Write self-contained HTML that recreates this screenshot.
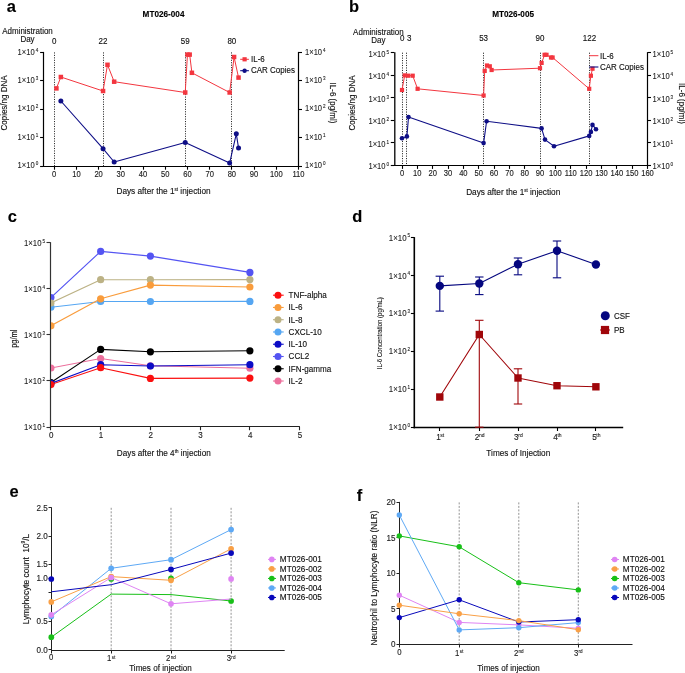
<!DOCTYPE html>
<html><head><meta charset="utf-8"><style>html,body{margin:0;padding:0;background:#fff;width:685px;height:673px;overflow:hidden}svg{display:block;will-change:transform}</style></head>
<body><svg width="685" height="673" viewBox="0 0 685 673" font-family='&quot;Liberation Sans&quot;, sans-serif'>
<rect width="685" height="673" fill="#fff"/>
<text x="0" y="0" font-size="16.5" text-anchor="start" fill="#000" font-weight="bold" stroke="#000" stroke-width="0.12" transform="translate(6.80 12.20) scale(1 1.05)">a</text>
<text x="0" y="0" font-size="8.2" text-anchor="middle" fill="#000" font-weight="bold" stroke="#000" stroke-width="0.12" transform="translate(163.50 17.20) scale(1 1.1)">MT026-004</text>
<text x="0" y="0" font-size="8" text-anchor="middle" fill="#111" stroke="#111" stroke-width="0.12" transform="translate(27.50 34.00) scale(1 1.1)">Administration</text>
<text x="0" y="0" font-size="8" text-anchor="middle" fill="#111" stroke="#111" stroke-width="0.12" transform="translate(27.50 41.80) scale(1 1.1)">Day</text>
<text x="0" y="0" font-size="8" text-anchor="middle" fill="#111" stroke="#111" stroke-width="0.12" transform="translate(54.20 44.00) scale(1 1.1)">0</text>
<line x1="54.50" y1="52.40" x2="54.50" y2="166.10" stroke="#111" stroke-width="0.9" stroke-dasharray="1.1 1.35"/>
<text x="0" y="0" font-size="8" text-anchor="middle" fill="#111" stroke="#111" stroke-width="0.12" transform="translate(103.06 44.00) scale(1 1.1)">22</text>
<line x1="103.50" y1="52.40" x2="103.50" y2="166.10" stroke="#111" stroke-width="0.9" stroke-dasharray="1.1 1.35"/>
<text x="0" y="0" font-size="8" text-anchor="middle" fill="#111" stroke="#111" stroke-width="0.12" transform="translate(185.23 44.00) scale(1 1.1)">59</text>
<line x1="185.50" y1="52.40" x2="185.50" y2="166.10" stroke="#111" stroke-width="0.9" stroke-dasharray="1.1 1.35"/>
<text x="0" y="0" font-size="8" text-anchor="middle" fill="#111" stroke="#111" stroke-width="0.12" transform="translate(231.87 44.00) scale(1 1.1)">80</text>
<line x1="231.50" y1="52.40" x2="231.50" y2="166.10" stroke="#111" stroke-width="0.9" stroke-dasharray="1.1 1.35"/>
<line x1="43.50" y1="51.90" x2="43.50" y2="166.70" stroke="#000" stroke-width="1.2"/>
<line x1="43.00" y1="166.50" x2="299.10" y2="166.50" stroke="#000" stroke-width="1.2"/>
<line x1="298.50" y1="51.90" x2="298.50" y2="166.70" stroke="#000" stroke-width="1.2"/>
<line x1="40.10" y1="166.50" x2="43.60" y2="166.50" stroke="#000" stroke-width="1.1"/>
<line x1="298.50" y1="166.50" x2="302.00" y2="166.50" stroke="#000" stroke-width="1.1"/>
<text x="0" y="0" font-size="7.6" text-anchor="start" fill="#222" stroke="#222" stroke-width="0.08" transform="translate(17.62 168.34) scale(1 1.1)">1×10</text>
<text x="0" y="0" font-size="4.6" text-anchor="start" fill="#222" stroke="#222" stroke-width="0.1" transform="translate(35.64 165.22) scale(1 1.1)">0</text>
<text x="0" y="0" font-size="7.6" text-anchor="start" fill="#222" stroke="#222" stroke-width="0.08" transform="translate(305.00 168.34) scale(1 1.1)">1×10</text>
<text x="0" y="0" font-size="4.6" text-anchor="start" fill="#222" stroke="#222" stroke-width="0.1" transform="translate(323.02 165.22) scale(1 1.1)">0</text>
<line x1="40.10" y1="137.50" x2="43.60" y2="137.50" stroke="#000" stroke-width="1.1"/>
<line x1="298.50" y1="137.50" x2="302.00" y2="137.50" stroke="#000" stroke-width="1.1"/>
<text x="0" y="0" font-size="7.6" text-anchor="start" fill="#222" stroke="#222" stroke-width="0.08" transform="translate(17.62 139.91) scale(1 1.1)">1×10</text>
<text x="0" y="0" font-size="4.6" text-anchor="start" fill="#222" stroke="#222" stroke-width="0.1" transform="translate(35.64 136.80) scale(1 1.1)">1</text>
<text x="0" y="0" font-size="7.6" text-anchor="start" fill="#222" stroke="#222" stroke-width="0.08" transform="translate(305.00 139.91) scale(1 1.1)">1×10</text>
<text x="0" y="0" font-size="4.6" text-anchor="start" fill="#222" stroke="#222" stroke-width="0.1" transform="translate(323.02 136.80) scale(1 1.1)">1</text>
<line x1="40.10" y1="109.50" x2="43.60" y2="109.50" stroke="#000" stroke-width="1.1"/>
<line x1="298.50" y1="109.50" x2="302.00" y2="109.50" stroke="#000" stroke-width="1.1"/>
<text x="0" y="0" font-size="7.6" text-anchor="start" fill="#222" stroke="#222" stroke-width="0.08" transform="translate(17.62 111.49) scale(1 1.1)">1×10</text>
<text x="0" y="0" font-size="4.6" text-anchor="start" fill="#222" stroke="#222" stroke-width="0.1" transform="translate(35.64 108.37) scale(1 1.1)">2</text>
<text x="0" y="0" font-size="7.6" text-anchor="start" fill="#222" stroke="#222" stroke-width="0.08" transform="translate(305.00 111.49) scale(1 1.1)">1×10</text>
<text x="0" y="0" font-size="4.6" text-anchor="start" fill="#222" stroke="#222" stroke-width="0.1" transform="translate(323.02 108.37) scale(1 1.1)">2</text>
<line x1="40.10" y1="80.50" x2="43.60" y2="80.50" stroke="#000" stroke-width="1.1"/>
<line x1="298.50" y1="80.50" x2="302.00" y2="80.50" stroke="#000" stroke-width="1.1"/>
<text x="0" y="0" font-size="7.6" text-anchor="start" fill="#222" stroke="#222" stroke-width="0.08" transform="translate(17.62 83.06) scale(1 1.1)">1×10</text>
<text x="0" y="0" font-size="4.6" text-anchor="start" fill="#222" stroke="#222" stroke-width="0.1" transform="translate(35.64 79.95) scale(1 1.1)">3</text>
<text x="0" y="0" font-size="7.6" text-anchor="start" fill="#222" stroke="#222" stroke-width="0.08" transform="translate(305.00 83.06) scale(1 1.1)">1×10</text>
<text x="0" y="0" font-size="4.6" text-anchor="start" fill="#222" stroke="#222" stroke-width="0.1" transform="translate(323.02 79.95) scale(1 1.1)">3</text>
<line x1="40.10" y1="52.50" x2="43.60" y2="52.50" stroke="#000" stroke-width="1.1"/>
<line x1="298.50" y1="52.50" x2="302.00" y2="52.50" stroke="#000" stroke-width="1.1"/>
<text x="0" y="0" font-size="7.6" text-anchor="start" fill="#222" stroke="#222" stroke-width="0.08" transform="translate(17.62 54.64) scale(1 1.1)">1×10</text>
<text x="0" y="0" font-size="4.6" text-anchor="start" fill="#222" stroke="#222" stroke-width="0.1" transform="translate(35.64 51.52) scale(1 1.1)">4</text>
<text x="0" y="0" font-size="7.6" text-anchor="start" fill="#222" stroke="#222" stroke-width="0.08" transform="translate(305.00 54.64) scale(1 1.1)">1×10</text>
<text x="0" y="0" font-size="4.6" text-anchor="start" fill="#222" stroke="#222" stroke-width="0.1" transform="translate(323.02 51.52) scale(1 1.1)">4</text>
<line x1="54.50" y1="166.10" x2="54.50" y2="169.70" stroke="#000" stroke-width="1.1"/>
<text x="0" y="0" font-size="7.6" text-anchor="middle" fill="#222" stroke="#222" stroke-width="0.12" transform="translate(54.20 176.80) scale(1 1.1)">0</text>
<line x1="76.50" y1="166.10" x2="76.50" y2="169.70" stroke="#000" stroke-width="1.1"/>
<text x="0" y="0" font-size="7.6" text-anchor="middle" fill="#222" stroke="#222" stroke-width="0.12" transform="translate(76.41 176.80) scale(1 1.1)">10</text>
<line x1="98.50" y1="166.10" x2="98.50" y2="169.70" stroke="#000" stroke-width="1.1"/>
<text x="0" y="0" font-size="7.6" text-anchor="middle" fill="#222" stroke="#222" stroke-width="0.12" transform="translate(98.62 176.80) scale(1 1.1)">20</text>
<line x1="120.50" y1="166.10" x2="120.50" y2="169.70" stroke="#000" stroke-width="1.1"/>
<text x="0" y="0" font-size="7.6" text-anchor="middle" fill="#222" stroke="#222" stroke-width="0.12" transform="translate(120.83 176.80) scale(1 1.1)">30</text>
<line x1="143.50" y1="166.10" x2="143.50" y2="169.70" stroke="#000" stroke-width="1.1"/>
<text x="0" y="0" font-size="7.6" text-anchor="middle" fill="#222" stroke="#222" stroke-width="0.12" transform="translate(143.04 176.80) scale(1 1.1)">40</text>
<line x1="165.50" y1="166.10" x2="165.50" y2="169.70" stroke="#000" stroke-width="1.1"/>
<text x="0" y="0" font-size="7.6" text-anchor="middle" fill="#222" stroke="#222" stroke-width="0.12" transform="translate(165.25 176.80) scale(1 1.1)">50</text>
<line x1="187.50" y1="166.10" x2="187.50" y2="169.70" stroke="#000" stroke-width="1.1"/>
<text x="0" y="0" font-size="7.6" text-anchor="middle" fill="#222" stroke="#222" stroke-width="0.12" transform="translate(187.45 176.80) scale(1 1.1)">60</text>
<line x1="209.50" y1="166.10" x2="209.50" y2="169.70" stroke="#000" stroke-width="1.1"/>
<text x="0" y="0" font-size="7.6" text-anchor="middle" fill="#222" stroke="#222" stroke-width="0.12" transform="translate(209.66 176.80) scale(1 1.1)">70</text>
<line x1="231.50" y1="166.10" x2="231.50" y2="169.70" stroke="#000" stroke-width="1.1"/>
<text x="0" y="0" font-size="7.6" text-anchor="middle" fill="#222" stroke="#222" stroke-width="0.12" transform="translate(231.87 176.80) scale(1 1.1)">80</text>
<line x1="254.50" y1="166.10" x2="254.50" y2="169.70" stroke="#000" stroke-width="1.1"/>
<text x="0" y="0" font-size="7.6" text-anchor="middle" fill="#222" stroke="#222" stroke-width="0.12" transform="translate(254.08 176.80) scale(1 1.1)">90</text>
<line x1="276.50" y1="166.10" x2="276.50" y2="169.70" stroke="#000" stroke-width="1.1"/>
<text x="0" y="0" font-size="7.6" text-anchor="middle" fill="#222" stroke="#222" stroke-width="0.12" transform="translate(276.29 176.80) scale(1 1.1)">100</text>
<line x1="298.50" y1="166.10" x2="298.50" y2="169.70" stroke="#000" stroke-width="1.1"/>
<text x="0" y="0" font-size="7.6" text-anchor="middle" fill="#222" stroke="#222" stroke-width="0.12" transform="translate(298.50 176.80) scale(1 1.1)">110</text>
<text x="0" y="0" font-size="8" text-anchor="middle" fill="#111" stroke="#111" stroke-width="0.12" transform="translate(7.20 103.00) rotate(-90) scale(1 1.1)">Copies/ng DNA</text>
<text x="0" y="0" font-size="8" text-anchor="middle" fill="#111" stroke="#111" stroke-width="0.12" transform="translate(329.50 103.00) rotate(90) scale(1 1.1)">IL-6 (pg/ml)</text>
<text x="0" y="0" font-size="8.25" text-anchor="middle" fill="#111" stroke="#111" stroke-width="0.12" transform="translate(163.50 194.20) scale(1 1.1)" style="white-space:pre">Days after the 1<tspan font-size="4.5" dy="-3">st</tspan><tspan dy="3"> injection</tspan></text>
<polyline points="56.42,88.40 60.86,77.00 103.06,91.00 107.50,64.80 114.16,81.70 185.23,92.50 187.45,54.60 189.68,54.60 191.90,72.80 229.65,92.50 234.09,57.00 238.54,77.60" fill="none" stroke="#f3363f" stroke-width="1" stroke-linejoin="round"/>
<rect x="54.17" y="86.15" width="4.5" height="4.5" fill="#f3363f"/>
<rect x="58.61" y="74.75" width="4.5" height="4.5" fill="#f3363f"/>
<rect x="100.81" y="88.75" width="4.5" height="4.5" fill="#f3363f"/>
<rect x="105.25" y="62.55" width="4.5" height="4.5" fill="#f3363f"/>
<rect x="111.91" y="79.45" width="4.5" height="4.5" fill="#f3363f"/>
<rect x="182.98" y="90.25" width="4.5" height="4.5" fill="#f3363f"/>
<rect x="185.20" y="52.35" width="4.5" height="4.5" fill="#f3363f"/>
<rect x="187.43" y="52.35" width="4.5" height="4.5" fill="#f3363f"/>
<rect x="189.65" y="70.55" width="4.5" height="4.5" fill="#f3363f"/>
<rect x="227.40" y="90.25" width="4.5" height="4.5" fill="#f3363f"/>
<rect x="231.84" y="54.75" width="4.5" height="4.5" fill="#f3363f"/>
<rect x="236.29" y="75.35" width="4.5" height="4.5" fill="#f3363f"/>
<polyline points="60.86,101.00 103.06,148.70 114.16,162.00 185.23,142.50 229.65,163.00 236.31,133.80 238.54,148.00" fill="none" stroke="#0e0e86" stroke-width="1.1" stroke-linejoin="round"/>
<circle cx="60.86" cy="101.00" r="2.5" fill="#0e0e86"/>
<circle cx="103.06" cy="148.70" r="2.5" fill="#0e0e86"/>
<circle cx="114.16" cy="162.00" r="2.5" fill="#0e0e86"/>
<circle cx="185.23" cy="142.50" r="2.5" fill="#0e0e86"/>
<circle cx="229.65" cy="163.00" r="2.5" fill="#0e0e86"/>
<circle cx="236.31" cy="133.80" r="2.5" fill="#0e0e86"/>
<circle cx="238.54" cy="148.00" r="2.5" fill="#0e0e86"/>
<line x1="240.20" y1="59.30" x2="248.90" y2="59.30" stroke="#f3363f" stroke-width="1"/>
<rect x="242.50" y="57.20" width="4.2" height="4.2" fill="#f3363f"/>
<text x="0" y="0" font-size="8" text-anchor="start" fill="#111" stroke="#111" stroke-width="0.12" transform="translate(251.00 61.70) scale(1 1.1)">IL-6</text>
<line x1="240.20" y1="70.70" x2="248.90" y2="70.70" stroke="#0e0e86" stroke-width="1.1"/>
<circle cx="244.60" cy="70.70" r="2.2" fill="#0e0e86"/>
<text x="0" y="0" font-size="8" text-anchor="start" fill="#111" stroke="#111" stroke-width="0.12" transform="translate(251.00 72.70) scale(1 1.1)">CAR Copies</text>
<text x="0" y="0" font-size="16.5" text-anchor="start" fill="#000" font-weight="bold" stroke="#000" stroke-width="0.12" transform="translate(349.00 12.20) scale(1 1.05)">b</text>
<text x="0" y="0" font-size="8.2" text-anchor="middle" fill="#000" font-weight="bold" stroke="#000" stroke-width="0.12" transform="translate(513.10 17.20) scale(1 1.1)">MT026-005</text>
<text x="0" y="0" font-size="8" text-anchor="middle" fill="#111" stroke="#111" stroke-width="0.12" transform="translate(378.40 34.50) scale(1 1.1)">Administration</text>
<text x="0" y="0" font-size="8" text-anchor="middle" fill="#111" stroke="#111" stroke-width="0.12" transform="translate(378.40 42.50) scale(1 1.1)">Day</text>
<text x="0" y="0" font-size="8" text-anchor="middle" fill="#111" stroke="#111" stroke-width="0.12" transform="translate(402.30 41.20) scale(1 1.1)">0</text>
<line x1="402.50" y1="52.70" x2="402.50" y2="165.30" stroke="#111" stroke-width="0.9" stroke-dasharray="1.1 1.35"/>
<text x="0" y="0" font-size="8" text-anchor="middle" fill="#111" stroke="#111" stroke-width="0.12" transform="translate(409.30 41.20) scale(1 1.1)">3</text>
<line x1="406.50" y1="52.70" x2="406.50" y2="165.30" stroke="#111" stroke-width="0.9" stroke-dasharray="1.1 1.35"/>
<text x="0" y="0" font-size="8" text-anchor="middle" fill="#111" stroke="#111" stroke-width="0.12" transform="translate(483.60 41.20) scale(1 1.1)">53</text>
<line x1="483.50" y1="52.70" x2="483.50" y2="165.30" stroke="#111" stroke-width="0.9" stroke-dasharray="1.1 1.35"/>
<text x="0" y="0" font-size="8" text-anchor="middle" fill="#111" stroke="#111" stroke-width="0.12" transform="translate(540.00 41.20) scale(1 1.1)">90</text>
<line x1="540.50" y1="52.70" x2="540.50" y2="165.30" stroke="#111" stroke-width="0.9" stroke-dasharray="1.1 1.35"/>
<text x="0" y="0" font-size="8" text-anchor="middle" fill="#111" stroke="#111" stroke-width="0.12" transform="translate(589.50 41.20) scale(1 1.1)">122</text>
<line x1="589.50" y1="52.70" x2="589.50" y2="165.30" stroke="#111" stroke-width="0.9" stroke-dasharray="1.1 1.35"/>
<line x1="394.80" y1="52.20" x2="394.80" y2="165.90" stroke="#000" stroke-width="1.3"/>
<line x1="393.70" y1="165.50" x2="648.10" y2="165.50" stroke="#000" stroke-width="1.2"/>
<line x1="647.50" y1="52.20" x2="647.50" y2="165.90" stroke="#000" stroke-width="1.2"/>
<line x1="390.80" y1="165.50" x2="394.30" y2="165.50" stroke="#000" stroke-width="1.1"/>
<line x1="647.50" y1="165.50" x2="651.00" y2="165.50" stroke="#000" stroke-width="1.1"/>
<text x="0" y="0" font-size="7.6" text-anchor="start" fill="#222" stroke="#222" stroke-width="0.08" transform="translate(368.42 169.24) scale(1 1.1)">1×10</text>
<text x="0" y="0" font-size="4.6" text-anchor="start" fill="#222" stroke="#222" stroke-width="0.1" transform="translate(386.44 166.12) scale(1 1.1)">0</text>
<text x="0" y="0" font-size="7.6" text-anchor="start" fill="#222" stroke="#222" stroke-width="0.08" transform="translate(652.60 169.24) scale(1 1.1)">1×10</text>
<text x="0" y="0" font-size="4.6" text-anchor="start" fill="#222" stroke="#222" stroke-width="0.1" transform="translate(670.62 166.12) scale(1 1.1)">0</text>
<line x1="390.80" y1="142.50" x2="394.30" y2="142.50" stroke="#000" stroke-width="1.1"/>
<line x1="647.50" y1="142.50" x2="651.00" y2="142.50" stroke="#000" stroke-width="1.1"/>
<text x="0" y="0" font-size="7.6" text-anchor="start" fill="#222" stroke="#222" stroke-width="0.08" transform="translate(368.42 146.72) scale(1 1.1)">1×10</text>
<text x="0" y="0" font-size="4.6" text-anchor="start" fill="#222" stroke="#222" stroke-width="0.1" transform="translate(386.44 143.60) scale(1 1.1)">1</text>
<text x="0" y="0" font-size="7.6" text-anchor="start" fill="#222" stroke="#222" stroke-width="0.08" transform="translate(652.60 146.72) scale(1 1.1)">1×10</text>
<text x="0" y="0" font-size="4.6" text-anchor="start" fill="#222" stroke="#222" stroke-width="0.1" transform="translate(670.62 143.60) scale(1 1.1)">1</text>
<line x1="390.80" y1="120.50" x2="394.30" y2="120.50" stroke="#000" stroke-width="1.1"/>
<line x1="647.50" y1="120.50" x2="651.00" y2="120.50" stroke="#000" stroke-width="1.1"/>
<text x="0" y="0" font-size="7.6" text-anchor="start" fill="#222" stroke="#222" stroke-width="0.08" transform="translate(368.42 124.20) scale(1 1.1)">1×10</text>
<text x="0" y="0" font-size="4.6" text-anchor="start" fill="#222" stroke="#222" stroke-width="0.1" transform="translate(386.44 121.08) scale(1 1.1)">2</text>
<text x="0" y="0" font-size="7.6" text-anchor="start" fill="#222" stroke="#222" stroke-width="0.08" transform="translate(652.60 124.20) scale(1 1.1)">1×10</text>
<text x="0" y="0" font-size="4.6" text-anchor="start" fill="#222" stroke="#222" stroke-width="0.1" transform="translate(670.62 121.08) scale(1 1.1)">2</text>
<line x1="390.80" y1="97.50" x2="394.30" y2="97.50" stroke="#000" stroke-width="1.1"/>
<line x1="647.50" y1="97.50" x2="651.00" y2="97.50" stroke="#000" stroke-width="1.1"/>
<text x="0" y="0" font-size="7.6" text-anchor="start" fill="#222" stroke="#222" stroke-width="0.08" transform="translate(368.42 101.68) scale(1 1.1)">1×10</text>
<text x="0" y="0" font-size="4.6" text-anchor="start" fill="#222" stroke="#222" stroke-width="0.1" transform="translate(386.44 98.56) scale(1 1.1)">3</text>
<text x="0" y="0" font-size="7.6" text-anchor="start" fill="#222" stroke="#222" stroke-width="0.08" transform="translate(652.60 101.68) scale(1 1.1)">1×10</text>
<text x="0" y="0" font-size="4.6" text-anchor="start" fill="#222" stroke="#222" stroke-width="0.1" transform="translate(670.62 98.56) scale(1 1.1)">3</text>
<line x1="390.80" y1="75.50" x2="394.30" y2="75.50" stroke="#000" stroke-width="1.1"/>
<line x1="647.50" y1="75.50" x2="651.00" y2="75.50" stroke="#000" stroke-width="1.1"/>
<text x="0" y="0" font-size="7.6" text-anchor="start" fill="#222" stroke="#222" stroke-width="0.08" transform="translate(368.42 79.16) scale(1 1.1)">1×10</text>
<text x="0" y="0" font-size="4.6" text-anchor="start" fill="#222" stroke="#222" stroke-width="0.1" transform="translate(386.44 76.04) scale(1 1.1)">4</text>
<text x="0" y="0" font-size="7.6" text-anchor="start" fill="#222" stroke="#222" stroke-width="0.08" transform="translate(652.60 79.16) scale(1 1.1)">1×10</text>
<text x="0" y="0" font-size="4.6" text-anchor="start" fill="#222" stroke="#222" stroke-width="0.1" transform="translate(670.62 76.04) scale(1 1.1)">4</text>
<line x1="390.80" y1="52.50" x2="394.30" y2="52.50" stroke="#000" stroke-width="1.1"/>
<line x1="647.50" y1="52.50" x2="651.00" y2="52.50" stroke="#000" stroke-width="1.1"/>
<text x="0" y="0" font-size="7.6" text-anchor="start" fill="#222" stroke="#222" stroke-width="0.08" transform="translate(368.42 56.64) scale(1 1.1)">1×10</text>
<text x="0" y="0" font-size="4.6" text-anchor="start" fill="#222" stroke="#222" stroke-width="0.1" transform="translate(386.44 53.52) scale(1 1.1)">5</text>
<text x="0" y="0" font-size="7.6" text-anchor="start" fill="#222" stroke="#222" stroke-width="0.08" transform="translate(652.60 56.64) scale(1 1.1)">1×10</text>
<text x="0" y="0" font-size="4.6" text-anchor="start" fill="#222" stroke="#222" stroke-width="0.1" transform="translate(670.62 53.52) scale(1 1.1)">5</text>
<line x1="402.50" y1="165.30" x2="402.50" y2="168.90" stroke="#000" stroke-width="1.1"/>
<text x="0" y="0" font-size="7.6" text-anchor="middle" fill="#222" stroke="#222" stroke-width="0.12" transform="translate(402.00 176.00) scale(1 1.1)">0</text>
<line x1="417.50" y1="165.30" x2="417.50" y2="168.90" stroke="#000" stroke-width="1.1"/>
<text x="0" y="0" font-size="7.6" text-anchor="middle" fill="#222" stroke="#222" stroke-width="0.12" transform="translate(417.34 176.00) scale(1 1.1)">10</text>
<line x1="432.50" y1="165.30" x2="432.50" y2="168.90" stroke="#000" stroke-width="1.1"/>
<text x="0" y="0" font-size="7.6" text-anchor="middle" fill="#222" stroke="#222" stroke-width="0.12" transform="translate(432.69 176.00) scale(1 1.1)">20</text>
<line x1="448.50" y1="165.30" x2="448.50" y2="168.90" stroke="#000" stroke-width="1.1"/>
<text x="0" y="0" font-size="7.6" text-anchor="middle" fill="#222" stroke="#222" stroke-width="0.12" transform="translate(448.03 176.00) scale(1 1.1)">30</text>
<line x1="463.50" y1="165.30" x2="463.50" y2="168.90" stroke="#000" stroke-width="1.1"/>
<text x="0" y="0" font-size="7.6" text-anchor="middle" fill="#222" stroke="#222" stroke-width="0.12" transform="translate(463.38 176.00) scale(1 1.1)">40</text>
<line x1="478.50" y1="165.30" x2="478.50" y2="168.90" stroke="#000" stroke-width="1.1"/>
<text x="0" y="0" font-size="7.6" text-anchor="middle" fill="#222" stroke="#222" stroke-width="0.12" transform="translate(478.72 176.00) scale(1 1.1)">50</text>
<line x1="494.50" y1="165.30" x2="494.50" y2="168.90" stroke="#000" stroke-width="1.1"/>
<text x="0" y="0" font-size="7.6" text-anchor="middle" fill="#222" stroke="#222" stroke-width="0.12" transform="translate(494.06 176.00) scale(1 1.1)">60</text>
<line x1="509.50" y1="165.30" x2="509.50" y2="168.90" stroke="#000" stroke-width="1.1"/>
<text x="0" y="0" font-size="7.6" text-anchor="middle" fill="#222" stroke="#222" stroke-width="0.12" transform="translate(509.41 176.00) scale(1 1.1)">70</text>
<line x1="524.50" y1="165.30" x2="524.50" y2="168.90" stroke="#000" stroke-width="1.1"/>
<text x="0" y="0" font-size="7.6" text-anchor="middle" fill="#222" stroke="#222" stroke-width="0.12" transform="translate(524.75 176.00) scale(1 1.1)">80</text>
<line x1="540.50" y1="165.30" x2="540.50" y2="168.90" stroke="#000" stroke-width="1.1"/>
<text x="0" y="0" font-size="7.6" text-anchor="middle" fill="#222" stroke="#222" stroke-width="0.12" transform="translate(540.09 176.00) scale(1 1.1)">90</text>
<line x1="555.50" y1="165.30" x2="555.50" y2="168.90" stroke="#000" stroke-width="1.1"/>
<text x="0" y="0" font-size="7.6" text-anchor="middle" fill="#222" stroke="#222" stroke-width="0.12" transform="translate(555.44 176.00) scale(1 1.1)">100</text>
<line x1="570.50" y1="165.30" x2="570.50" y2="168.90" stroke="#000" stroke-width="1.1"/>
<text x="0" y="0" font-size="7.6" text-anchor="middle" fill="#222" stroke="#222" stroke-width="0.12" transform="translate(570.78 176.00) scale(1 1.1)">110</text>
<line x1="586.50" y1="165.30" x2="586.50" y2="168.90" stroke="#000" stroke-width="1.1"/>
<text x="0" y="0" font-size="7.6" text-anchor="middle" fill="#222" stroke="#222" stroke-width="0.12" transform="translate(586.12 176.00) scale(1 1.1)">120</text>
<line x1="601.50" y1="165.30" x2="601.50" y2="168.90" stroke="#000" stroke-width="1.1"/>
<text x="0" y="0" font-size="7.6" text-anchor="middle" fill="#222" stroke="#222" stroke-width="0.12" transform="translate(601.47 176.00) scale(1 1.1)">130</text>
<line x1="616.50" y1="165.30" x2="616.50" y2="168.90" stroke="#000" stroke-width="1.1"/>
<text x="0" y="0" font-size="7.6" text-anchor="middle" fill="#222" stroke="#222" stroke-width="0.12" transform="translate(616.81 176.00) scale(1 1.1)">140</text>
<line x1="632.50" y1="165.30" x2="632.50" y2="168.90" stroke="#000" stroke-width="1.1"/>
<text x="0" y="0" font-size="7.6" text-anchor="middle" fill="#222" stroke="#222" stroke-width="0.12" transform="translate(632.16 176.00) scale(1 1.1)">150</text>
<line x1="647.50" y1="165.30" x2="647.50" y2="168.90" stroke="#000" stroke-width="1.1"/>
<text x="0" y="0" font-size="7.6" text-anchor="middle" fill="#222" stroke="#222" stroke-width="0.12" transform="translate(647.50 176.00) scale(1 1.1)">160</text>
<text x="0" y="0" font-size="8" text-anchor="middle" fill="#111" stroke="#111" stroke-width="0.12" transform="translate(355.00 103.00) rotate(-90) scale(1 1.1)">Copies/ng DNA</text>
<text x="0" y="0" font-size="8" text-anchor="middle" fill="#111" stroke="#111" stroke-width="0.12" transform="translate(679.00 103.50) rotate(90) scale(1 1.1)">IL-6 (pg/ml)</text>
<text x="0" y="0" font-size="8.25" text-anchor="middle" fill="#111" stroke="#111" stroke-width="0.12" transform="translate(513.20 194.80) scale(1 1.1)" style="white-space:pre">Days after the 1<tspan font-size="4.5" dy="-3">st</tspan><tspan dy="3"> injection</tspan></text>
<polyline points="402.00,90.00 404.70,75.40 408.20,75.70 412.70,75.70 417.60,88.80 483.60,95.50 484.70,70.90 487.00,65.50 489.80,66.30 491.60,70.00 540.00,68.20 541.60,62.90 544.60,54.80 546.50,54.80 551.00,57.50 552.60,57.50 589.20,88.80 590.90,75.70 592.50,68.70" fill="none" stroke="#f3363f" stroke-width="1" stroke-linejoin="round"/>
<rect x="399.90" y="87.90" width="4.2" height="4.2" fill="#f3363f"/>
<rect x="402.60" y="73.30" width="4.2" height="4.2" fill="#f3363f"/>
<rect x="406.10" y="73.60" width="4.2" height="4.2" fill="#f3363f"/>
<rect x="410.60" y="73.60" width="4.2" height="4.2" fill="#f3363f"/>
<rect x="415.50" y="86.70" width="4.2" height="4.2" fill="#f3363f"/>
<rect x="481.50" y="93.40" width="4.2" height="4.2" fill="#f3363f"/>
<rect x="482.60" y="68.80" width="4.2" height="4.2" fill="#f3363f"/>
<rect x="484.90" y="63.40" width="4.2" height="4.2" fill="#f3363f"/>
<rect x="487.70" y="64.20" width="4.2" height="4.2" fill="#f3363f"/>
<rect x="489.50" y="67.90" width="4.2" height="4.2" fill="#f3363f"/>
<rect x="537.90" y="66.10" width="4.2" height="4.2" fill="#f3363f"/>
<rect x="539.50" y="60.80" width="4.2" height="4.2" fill="#f3363f"/>
<rect x="542.50" y="52.70" width="4.2" height="4.2" fill="#f3363f"/>
<rect x="544.40" y="52.70" width="4.2" height="4.2" fill="#f3363f"/>
<rect x="548.90" y="55.40" width="4.2" height="4.2" fill="#f3363f"/>
<rect x="550.50" y="55.40" width="4.2" height="4.2" fill="#f3363f"/>
<rect x="587.10" y="86.70" width="4.2" height="4.2" fill="#f3363f"/>
<rect x="588.80" y="73.60" width="4.2" height="4.2" fill="#f3363f"/>
<rect x="590.40" y="66.60" width="4.2" height="4.2" fill="#f3363f"/>
<polyline points="402.00,138.30 406.90,136.40 408.50,117.10 483.60,143.10 486.60,121.20 541.60,128.40 545.00,139.60 554.00,146.30 589.20,135.90 590.90,131.90 592.50,124.90 596.00,129.20" fill="none" stroke="#0e0e86" stroke-width="1.1" stroke-linejoin="round"/>
<circle cx="402.00" cy="138.30" r="2.3" fill="#0e0e86"/>
<circle cx="406.90" cy="136.40" r="2.3" fill="#0e0e86"/>
<circle cx="408.50" cy="117.10" r="2.3" fill="#0e0e86"/>
<circle cx="483.60" cy="143.10" r="2.3" fill="#0e0e86"/>
<circle cx="486.60" cy="121.20" r="2.3" fill="#0e0e86"/>
<circle cx="541.60" cy="128.40" r="2.3" fill="#0e0e86"/>
<circle cx="545.00" cy="139.60" r="2.3" fill="#0e0e86"/>
<circle cx="554.00" cy="146.30" r="2.3" fill="#0e0e86"/>
<circle cx="589.20" cy="135.90" r="2.3" fill="#0e0e86"/>
<circle cx="590.90" cy="131.90" r="2.3" fill="#0e0e86"/>
<circle cx="592.50" cy="124.90" r="2.3" fill="#0e0e86"/>
<circle cx="596.00" cy="129.20" r="2.3" fill="#0e0e86"/>
<line x1="589.20" y1="55.70" x2="598.40" y2="55.70" stroke="#f3363f" stroke-width="1"/>
<text x="0" y="0" font-size="8" text-anchor="start" fill="#111" stroke="#111" stroke-width="0.12" transform="translate(600.00 58.60) scale(1 1.1)">IL-6</text>
<line x1="589.20" y1="67.00" x2="598.40" y2="67.00" stroke="#0e0e86" stroke-width="1.1"/>
<text x="0" y="0" font-size="8" text-anchor="start" fill="#111" stroke="#111" stroke-width="0.12" transform="translate(600.00 69.80) scale(1 1.1)">CAR Copies</text>
<text x="0" y="0" font-size="16.5" text-anchor="start" fill="#000" font-weight="bold" stroke="#000" stroke-width="0.12" transform="translate(7.70 222.20) scale(1 1.05)">c</text>
<line x1="50.50" y1="242.20" x2="50.50" y2="427.60" stroke="#333" stroke-width="1.2"/>
<line x1="50.00" y1="426.50" x2="299.80" y2="426.50" stroke="#222" stroke-width="1.2"/>
<line x1="46.50" y1="427.50" x2="50.50" y2="427.50" stroke="#333" stroke-width="1.1"/>
<text x="0" y="0" font-size="7.8" text-anchor="start" fill="#222" stroke="#222" stroke-width="0.08" transform="translate(23.97 430.11) scale(1 1.1)">1×10</text>
<text x="0" y="0" font-size="4.6" text-anchor="start" fill="#222" stroke="#222" stroke-width="0.1" transform="translate(42.44 426.91) scale(1 1.1)">1</text>
<line x1="46.50" y1="380.50" x2="50.50" y2="380.50" stroke="#333" stroke-width="1.1"/>
<text x="0" y="0" font-size="7.8" text-anchor="start" fill="#222" stroke="#222" stroke-width="0.08" transform="translate(23.97 384.03) scale(1 1.1)">1×10</text>
<text x="0" y="0" font-size="4.6" text-anchor="start" fill="#222" stroke="#222" stroke-width="0.1" transform="translate(42.44 380.84) scale(1 1.1)">2</text>
<line x1="46.50" y1="334.50" x2="50.50" y2="334.50" stroke="#333" stroke-width="1.1"/>
<text x="0" y="0" font-size="7.8" text-anchor="start" fill="#222" stroke="#222" stroke-width="0.08" transform="translate(23.97 337.96) scale(1 1.1)">1×10</text>
<text x="0" y="0" font-size="4.6" text-anchor="start" fill="#222" stroke="#222" stroke-width="0.1" transform="translate(42.44 334.76) scale(1 1.1)">3</text>
<line x1="46.50" y1="288.50" x2="50.50" y2="288.50" stroke="#333" stroke-width="1.1"/>
<text x="0" y="0" font-size="7.8" text-anchor="start" fill="#222" stroke="#222" stroke-width="0.08" transform="translate(23.97 291.88) scale(1 1.1)">1×10</text>
<text x="0" y="0" font-size="4.6" text-anchor="start" fill="#222" stroke="#222" stroke-width="0.1" transform="translate(42.44 288.69) scale(1 1.1)">4</text>
<line x1="46.50" y1="242.50" x2="50.50" y2="242.50" stroke="#333" stroke-width="1.1"/>
<text x="0" y="0" font-size="7.8" text-anchor="start" fill="#222" stroke="#222" stroke-width="0.08" transform="translate(23.97 245.81) scale(1 1.1)">1×10</text>
<text x="0" y="0" font-size="4.6" text-anchor="start" fill="#222" stroke="#222" stroke-width="0.1" transform="translate(42.44 242.61) scale(1 1.1)">5</text>
<line x1="50.50" y1="426.50" x2="50.50" y2="430.20" stroke="#222" stroke-width="1.1"/>
<text x="0" y="0" font-size="8" text-anchor="middle" fill="#222" stroke="#222" stroke-width="0.12" transform="translate(51.10 438.40) scale(1 1.1)">0</text>
<line x1="100.50" y1="426.50" x2="100.50" y2="430.20" stroke="#222" stroke-width="1.1"/>
<text x="0" y="0" font-size="8" text-anchor="middle" fill="#222" stroke="#222" stroke-width="0.12" transform="translate(100.85 438.40) scale(1 1.1)">1</text>
<line x1="150.50" y1="426.50" x2="150.50" y2="430.20" stroke="#222" stroke-width="1.1"/>
<text x="0" y="0" font-size="8" text-anchor="middle" fill="#222" stroke="#222" stroke-width="0.12" transform="translate(150.60 438.40) scale(1 1.1)">2</text>
<line x1="200.50" y1="426.50" x2="200.50" y2="430.20" stroke="#222" stroke-width="1.1"/>
<text x="0" y="0" font-size="8" text-anchor="middle" fill="#222" stroke="#222" stroke-width="0.12" transform="translate(200.35 438.40) scale(1 1.1)">3</text>
<line x1="249.50" y1="426.50" x2="249.50" y2="430.20" stroke="#222" stroke-width="1.1"/>
<text x="0" y="0" font-size="8" text-anchor="middle" fill="#222" stroke="#222" stroke-width="0.12" transform="translate(250.10 438.40) scale(1 1.1)">4</text>
<line x1="299.50" y1="426.50" x2="299.50" y2="430.20" stroke="#222" stroke-width="1.1"/>
<text x="0" y="0" font-size="8" text-anchor="middle" fill="#222" stroke="#222" stroke-width="0.12" transform="translate(299.85 438.40) scale(1 1.1)">5</text>
<text x="0" y="0" font-size="7.4" text-anchor="middle" fill="#111" stroke="#111" stroke-width="0.12" transform="translate(16.50 338.70) rotate(-90) scale(1 1.1)">pg/ml</text>
<text x="0" y="0" font-size="8.2" text-anchor="middle" fill="#111" stroke="#111" stroke-width="0.12" transform="translate(163.80 455.60) scale(1 1.1)" style="white-space:pre">Days after the 4<tspan font-size="4.5" dy="-2.8">th</tspan><tspan dy="2.8"> injection</tspan></text>
<defs><clipPath id="clipc"><rect x="51" y="200" width="280" height="240"/></clipPath></defs><g clip-path="url(#clipc)">
<polyline points="50.90,368.00 100.65,358.50 150.40,365.80 249.90,368.20" fill="none" stroke="#ec6f9c" stroke-width="1.1" stroke-linejoin="round"/>
<circle cx="50.90" cy="368.00" r="3.6" fill="#ec6f9c"/>
<circle cx="100.65" cy="358.50" r="3.6" fill="#ec6f9c"/>
<circle cx="150.40" cy="365.80" r="3.6" fill="#ec6f9c"/>
<circle cx="249.90" cy="368.20" r="3.6" fill="#ec6f9c"/>
<polyline points="50.90,382.60 100.65,349.40 150.40,351.80 249.90,350.80" fill="none" stroke="#000000" stroke-width="1.1" stroke-linejoin="round"/>
<circle cx="50.90" cy="382.60" r="3.6" fill="#000000"/>
<circle cx="100.65" cy="349.40" r="3.6" fill="#000000"/>
<circle cx="150.40" cy="351.80" r="3.6" fill="#000000"/>
<circle cx="249.90" cy="350.80" r="3.6" fill="#000000"/>
<polyline points="50.90,297.50 100.65,251.40 150.40,256.10 249.90,272.40" fill="none" stroke="#5454f2" stroke-width="1.1" stroke-linejoin="round"/>
<circle cx="50.90" cy="297.50" r="3.6" fill="#5454f2"/>
<circle cx="100.65" cy="251.40" r="3.6" fill="#5454f2"/>
<circle cx="150.40" cy="256.10" r="3.6" fill="#5454f2"/>
<circle cx="249.90" cy="272.40" r="3.6" fill="#5454f2"/>
<polyline points="50.90,383.40 100.65,364.70 150.40,366.00 249.90,364.70" fill="none" stroke="#0c0cc6" stroke-width="1.1" stroke-linejoin="round"/>
<circle cx="50.90" cy="383.40" r="3.6" fill="#0c0cc6"/>
<circle cx="100.65" cy="364.70" r="3.6" fill="#0c0cc6"/>
<circle cx="150.40" cy="366.00" r="3.6" fill="#0c0cc6"/>
<circle cx="249.90" cy="364.70" r="3.6" fill="#0c0cc6"/>
<polyline points="50.90,307.20 100.65,301.50 150.40,301.50 249.90,301.40" fill="none" stroke="#55a6f2" stroke-width="1.1" stroke-linejoin="round"/>
<circle cx="50.90" cy="307.20" r="3.6" fill="#55a6f2"/>
<circle cx="100.65" cy="301.50" r="3.6" fill="#55a6f2"/>
<circle cx="150.40" cy="301.50" r="3.6" fill="#55a6f2"/>
<circle cx="249.90" cy="301.40" r="3.6" fill="#55a6f2"/>
<polyline points="50.90,303.00 100.65,279.70 150.40,279.70 249.90,279.60" fill="none" stroke="#bcb285" stroke-width="1.1" stroke-linejoin="round"/>
<circle cx="50.90" cy="303.00" r="3.6" fill="#bcb285"/>
<circle cx="100.65" cy="279.70" r="3.6" fill="#bcb285"/>
<circle cx="150.40" cy="279.70" r="3.6" fill="#bcb285"/>
<circle cx="249.90" cy="279.60" r="3.6" fill="#bcb285"/>
<polyline points="50.90,325.80 100.65,298.80 150.40,285.10 249.90,287.00" fill="none" stroke="#f99c3c" stroke-width="1.1" stroke-linejoin="round"/>
<circle cx="50.90" cy="325.80" r="3.6" fill="#f99c3c"/>
<circle cx="100.65" cy="298.80" r="3.6" fill="#f99c3c"/>
<circle cx="150.40" cy="285.10" r="3.6" fill="#f99c3c"/>
<circle cx="249.90" cy="287.00" r="3.6" fill="#f99c3c"/>
<polyline points="50.90,384.60 100.65,367.70 150.40,378.40 249.90,378.10" fill="none" stroke="#fb0f0f" stroke-width="1.1" stroke-linejoin="round"/>
<circle cx="50.90" cy="384.60" r="3.6" fill="#fb0f0f"/>
<circle cx="100.65" cy="367.70" r="3.6" fill="#fb0f0f"/>
<circle cx="150.40" cy="378.40" r="3.6" fill="#fb0f0f"/>
<circle cx="249.90" cy="378.10" r="3.6" fill="#fb0f0f"/>
</g>
<line x1="273.00" y1="295.20" x2="283.70" y2="295.20" stroke="#fb0f0f" stroke-width="1.1"/>
<circle cx="278.00" cy="295.20" r="3.5" fill="#fb0f0f"/>
<text x="0" y="0" font-size="8.1" text-anchor="start" fill="#111" stroke="#111" stroke-width="0.12" transform="translate(288.60 298.10) scale(1 1.1)">TNF-alpha</text>
<line x1="273.00" y1="307.46" x2="283.70" y2="307.46" stroke="#f99c3c" stroke-width="1.1"/>
<circle cx="278.00" cy="307.46" r="3.5" fill="#f99c3c"/>
<text x="0" y="0" font-size="8.1" text-anchor="start" fill="#111" stroke="#111" stroke-width="0.12" transform="translate(288.60 310.36) scale(1 1.1)">IL-6</text>
<line x1="273.00" y1="319.72" x2="283.70" y2="319.72" stroke="#bcb285" stroke-width="1.1"/>
<circle cx="278.00" cy="319.72" r="3.5" fill="#bcb285"/>
<text x="0" y="0" font-size="8.1" text-anchor="start" fill="#111" stroke="#111" stroke-width="0.12" transform="translate(288.60 322.62) scale(1 1.1)">IL-8</text>
<line x1="273.00" y1="331.98" x2="283.70" y2="331.98" stroke="#55a6f2" stroke-width="1.1"/>
<circle cx="278.00" cy="331.98" r="3.5" fill="#55a6f2"/>
<text x="0" y="0" font-size="8.1" text-anchor="start" fill="#111" stroke="#111" stroke-width="0.12" transform="translate(288.60 334.88) scale(1 1.1)">CXCL-10</text>
<line x1="273.00" y1="344.24" x2="283.70" y2="344.24" stroke="#0c0cc6" stroke-width="1.1"/>
<circle cx="278.00" cy="344.24" r="3.5" fill="#0c0cc6"/>
<text x="0" y="0" font-size="8.1" text-anchor="start" fill="#111" stroke="#111" stroke-width="0.12" transform="translate(288.60 347.14) scale(1 1.1)">IL-10</text>
<line x1="273.00" y1="356.50" x2="283.70" y2="356.50" stroke="#5454f2" stroke-width="1.1"/>
<circle cx="278.00" cy="356.50" r="3.5" fill="#5454f2"/>
<text x="0" y="0" font-size="8.1" text-anchor="start" fill="#111" stroke="#111" stroke-width="0.12" transform="translate(288.60 359.40) scale(1 1.1)">CCL2</text>
<line x1="273.00" y1="368.76" x2="283.70" y2="368.76" stroke="#000000" stroke-width="1.1"/>
<circle cx="278.00" cy="368.76" r="3.5" fill="#000000"/>
<text x="0" y="0" font-size="8.1" text-anchor="start" fill="#111" stroke="#111" stroke-width="0.12" transform="translate(288.60 371.66) scale(1 1.1)">IFN-gamma</text>
<line x1="273.00" y1="381.02" x2="283.70" y2="381.02" stroke="#ec6f9c" stroke-width="1.1"/>
<circle cx="278.00" cy="381.02" r="3.5" fill="#ec6f9c"/>
<text x="0" y="0" font-size="8.1" text-anchor="start" fill="#111" stroke="#111" stroke-width="0.12" transform="translate(288.60 383.92) scale(1 1.1)">IL-2</text>
<text x="0" y="0" font-size="16.5" text-anchor="start" fill="#000" font-weight="bold" stroke="#000" stroke-width="0.12" transform="translate(352.30 222.00) scale(1 1.05)">d</text>
<line x1="414.30" y1="237.10" x2="414.30" y2="428.30" stroke="#000" stroke-width="1.6"/>
<line x1="413.60" y1="427.50" x2="623.20" y2="427.50" stroke="#000" stroke-width="1.5"/>
<line x1="410.90" y1="427.50" x2="414.40" y2="427.50" stroke="#000" stroke-width="1.1"/>
<text x="0" y="0" font-size="7.9" text-anchor="start" fill="#222" stroke="#222" stroke-width="0.08" transform="translate(388.75 430.24) scale(1 1.1)">1×10</text>
<text x="0" y="0" font-size="4.6" text-anchor="start" fill="#222" stroke="#222" stroke-width="0.1" transform="translate(407.44 427.00) scale(1 1.1)">0</text>
<line x1="410.90" y1="389.50" x2="414.40" y2="389.50" stroke="#000" stroke-width="1.1"/>
<text x="0" y="0" font-size="7.9" text-anchor="start" fill="#222" stroke="#222" stroke-width="0.08" transform="translate(388.75 392.32) scale(1 1.1)">1×10</text>
<text x="0" y="0" font-size="4.6" text-anchor="start" fill="#222" stroke="#222" stroke-width="0.1" transform="translate(407.44 389.08) scale(1 1.1)">1</text>
<line x1="410.90" y1="351.50" x2="414.40" y2="351.50" stroke="#000" stroke-width="1.1"/>
<text x="0" y="0" font-size="7.9" text-anchor="start" fill="#222" stroke="#222" stroke-width="0.08" transform="translate(388.75 354.40) scale(1 1.1)">1×10</text>
<text x="0" y="0" font-size="4.6" text-anchor="start" fill="#222" stroke="#222" stroke-width="0.1" transform="translate(407.44 351.17) scale(1 1.1)">2</text>
<line x1="410.90" y1="313.50" x2="414.40" y2="313.50" stroke="#000" stroke-width="1.1"/>
<text x="0" y="0" font-size="7.9" text-anchor="start" fill="#222" stroke="#222" stroke-width="0.08" transform="translate(388.75 316.48) scale(1 1.1)">1×10</text>
<text x="0" y="0" font-size="4.6" text-anchor="start" fill="#222" stroke="#222" stroke-width="0.1" transform="translate(407.44 313.25) scale(1 1.1)">3</text>
<line x1="410.90" y1="275.50" x2="414.40" y2="275.50" stroke="#000" stroke-width="1.1"/>
<text x="0" y="0" font-size="7.9" text-anchor="start" fill="#222" stroke="#222" stroke-width="0.08" transform="translate(388.75 278.56) scale(1 1.1)">1×10</text>
<text x="0" y="0" font-size="4.6" text-anchor="start" fill="#222" stroke="#222" stroke-width="0.1" transform="translate(407.44 275.32) scale(1 1.1)">4</text>
<line x1="410.90" y1="237.50" x2="414.40" y2="237.50" stroke="#000" stroke-width="1.1"/>
<text x="0" y="0" font-size="7.9" text-anchor="start" fill="#222" stroke="#222" stroke-width="0.08" transform="translate(388.75 240.64) scale(1 1.1)">1×10</text>
<text x="0" y="0" font-size="4.6" text-anchor="start" fill="#222" stroke="#222" stroke-width="0.1" transform="translate(407.44 237.40) scale(1 1.1)">5</text>
<line x1="439.50" y1="427.20" x2="439.50" y2="431.00" stroke="#000" stroke-width="1.1"/>
<line x1="479.50" y1="427.20" x2="479.50" y2="431.00" stroke="#000" stroke-width="1.1"/>
<line x1="518.50" y1="427.20" x2="518.50" y2="431.00" stroke="#000" stroke-width="1.1"/>
<line x1="557.50" y1="427.20" x2="557.50" y2="431.00" stroke="#000" stroke-width="1.1"/>
<line x1="595.50" y1="427.20" x2="595.50" y2="431.00" stroke="#000" stroke-width="1.1"/>
<text x="0" y="0" font-size="8.2" text-anchor="start" fill="#222" stroke="#222" stroke-width="0.12" transform="translate(436.18 439.70) scale(1 1.1)">1</text>
<text x="0" y="0" font-size="5" text-anchor="start" fill="#222" stroke="#222" stroke-width="0.1" transform="translate(440.34 436.80) scale(1 1.1)">st</text>
<text x="0" y="0" font-size="8.2" text-anchor="start" fill="#222" stroke="#222" stroke-width="0.12" transform="translate(474.84 439.70) scale(1 1.1)">2</text>
<text x="0" y="0" font-size="5" text-anchor="start" fill="#222" stroke="#222" stroke-width="0.1" transform="translate(479.00 436.80) scale(1 1.1)">nd</text>
<text x="0" y="0" font-size="8.2" text-anchor="start" fill="#222" stroke="#222" stroke-width="0.12" transform="translate(514.10 439.70) scale(1 1.1)">3</text>
<text x="0" y="0" font-size="5" text-anchor="start" fill="#222" stroke="#222" stroke-width="0.1" transform="translate(518.26 436.80) scale(1 1.1)">rd</text>
<text x="0" y="0" font-size="8.2" text-anchor="start" fill="#222" stroke="#222" stroke-width="0.12" transform="translate(553.23 439.70) scale(1 1.1)">4</text>
<text x="0" y="0" font-size="5" text-anchor="start" fill="#222" stroke="#222" stroke-width="0.1" transform="translate(557.40 436.80) scale(1 1.1)">th</text>
<text x="0" y="0" font-size="8.2" text-anchor="start" fill="#222" stroke="#222" stroke-width="0.12" transform="translate(592.13 439.70) scale(1 1.1)">5</text>
<text x="0" y="0" font-size="5" text-anchor="start" fill="#222" stroke="#222" stroke-width="0.1" transform="translate(596.30 436.80) scale(1 1.1)">th</text>
<text x="0" y="0" font-size="8.2" text-anchor="middle" fill="#111" stroke="#111" stroke-width="0.12" transform="translate(518.30 456.20) scale(1 1.1)">Times of Injection</text>
<text x="0" y="0" font-size="6.05" text-anchor="middle" fill="#111" stroke="#111" stroke-width="0.06" transform="translate(382.40 333.20) rotate(-90) scale(1 1.05)">IL-6 Concentration (pg/mL)</text>
<line x1="479.30" y1="320.30" x2="479.30" y2="427.20" stroke="#a0060a" stroke-width="1.1"/>
<line x1="475.10" y1="320.30" x2="483.50" y2="320.30" stroke="#a0060a" stroke-width="1.1"/>
<line x1="475.10" y1="427.20" x2="483.50" y2="427.20" stroke="#a0060a" stroke-width="1.1"/>
<line x1="518.00" y1="368.80" x2="518.00" y2="404.00" stroke="#a0060a" stroke-width="1.1"/>
<line x1="513.80" y1="368.80" x2="522.20" y2="368.80" stroke="#a0060a" stroke-width="1.1"/>
<line x1="513.80" y1="404.00" x2="522.20" y2="404.00" stroke="#a0060a" stroke-width="1.1"/>
<polyline points="439.80,397.00 479.30,334.50 518.00,378.00 557.00,385.70 595.90,386.80" fill="none" stroke="#a0060a" stroke-width="1.1" stroke-linejoin="round"/>
<line x1="439.80" y1="276.20" x2="439.80" y2="311.10" stroke="#04067f" stroke-width="1.1"/>
<line x1="435.60" y1="276.20" x2="444.00" y2="276.20" stroke="#04067f" stroke-width="1.1"/>
<line x1="435.60" y1="311.10" x2="444.00" y2="311.10" stroke="#04067f" stroke-width="1.1"/>
<line x1="479.30" y1="277.00" x2="479.30" y2="294.60" stroke="#04067f" stroke-width="1.1"/>
<line x1="475.10" y1="277.00" x2="483.50" y2="277.00" stroke="#04067f" stroke-width="1.1"/>
<line x1="475.10" y1="294.60" x2="483.50" y2="294.60" stroke="#04067f" stroke-width="1.1"/>
<line x1="518.00" y1="258.00" x2="518.00" y2="274.80" stroke="#04067f" stroke-width="1.1"/>
<line x1="513.80" y1="258.00" x2="522.20" y2="258.00" stroke="#04067f" stroke-width="1.1"/>
<line x1="513.80" y1="274.80" x2="522.20" y2="274.80" stroke="#04067f" stroke-width="1.1"/>
<line x1="557.00" y1="241.00" x2="557.00" y2="277.80" stroke="#04067f" stroke-width="1.1"/>
<line x1="552.80" y1="241.00" x2="561.20" y2="241.00" stroke="#04067f" stroke-width="1.1"/>
<line x1="552.80" y1="277.80" x2="561.20" y2="277.80" stroke="#04067f" stroke-width="1.1"/>
<polyline points="439.80,285.90 479.30,283.50 518.00,264.20 557.00,250.70 595.90,264.50" fill="none" stroke="#04067f" stroke-width="1.1" stroke-linejoin="round"/>
<circle cx="439.80" cy="285.90" r="4.2" fill="#04067f"/>
<circle cx="479.30" cy="283.50" r="4.2" fill="#04067f"/>
<circle cx="518.00" cy="264.20" r="4.2" fill="#04067f"/>
<circle cx="557.00" cy="250.70" r="4.2" fill="#04067f"/>
<circle cx="595.90" cy="264.50" r="4.2" fill="#04067f"/>
<rect x="436.10" y="393.30" width="7.4" height="7.4" fill="#a0060a"/>
<rect x="475.60" y="330.80" width="7.4" height="7.4" fill="#a0060a"/>
<rect x="514.30" y="374.30" width="7.4" height="7.4" fill="#a0060a"/>
<rect x="553.30" y="382.00" width="7.4" height="7.4" fill="#a0060a"/>
<rect x="592.20" y="383.10" width="7.4" height="7.4" fill="#a0060a"/>
<circle cx="605.30" cy="315.80" r="4.5" fill="#04067f"/>
<text x="0" y="0" font-size="8" text-anchor="start" fill="#111" stroke="#111" stroke-width="0.12" transform="translate(614.00 318.60) scale(1 1.1)">CSF</text>
<line x1="600.00" y1="330.00" x2="610.00" y2="330.00" stroke="#a0060a" stroke-width="1"/>
<rect x="600.90" y="325.90" width="8.2" height="8.2" fill="#a0060a"/>
<text x="0" y="0" font-size="8" text-anchor="start" fill="#111" stroke="#111" stroke-width="0.12" transform="translate(614.00 332.60) scale(1 1.1)">PB</text>
<text x="0" y="0" font-size="16.5" text-anchor="start" fill="#000" font-weight="bold" stroke="#000" stroke-width="0.12" transform="translate(9.50 497.00) scale(1 1.05)">e</text>
<line x1="111.20" y1="507.80" x2="111.20" y2="650.50" stroke="#888" stroke-width="0.9" stroke-dasharray="2 1.5"/>
<line x1="171.00" y1="507.80" x2="171.00" y2="650.50" stroke="#888" stroke-width="0.9" stroke-dasharray="2 1.5"/>
<line x1="231.10" y1="507.80" x2="231.10" y2="650.50" stroke="#888" stroke-width="0.9" stroke-dasharray="2 1.5"/>
<line x1="51.50" y1="507.30" x2="51.50" y2="651.00" stroke="#222" stroke-width="1"/>
<line x1="51.00" y1="650.50" x2="284.70" y2="650.50" stroke="#222" stroke-width="1.1"/>
<line x1="48.50" y1="507.50" x2="51.50" y2="507.50" stroke="#222" stroke-width="1"/>
<text x="0" y="0" font-size="8.1" text-anchor="end" fill="#222" stroke="#222" stroke-width="0.12" transform="translate(47.80 510.70) scale(1 1.1)">2.5</text>
<line x1="48.50" y1="536.50" x2="51.50" y2="536.50" stroke="#222" stroke-width="1"/>
<text x="0" y="0" font-size="8.1" text-anchor="end" fill="#222" stroke="#222" stroke-width="0.12" transform="translate(47.80 539.10) scale(1 1.1)">2.0</text>
<line x1="48.50" y1="564.50" x2="51.50" y2="564.50" stroke="#222" stroke-width="1"/>
<text x="0" y="0" font-size="8.1" text-anchor="end" fill="#222" stroke="#222" stroke-width="0.12" transform="translate(47.80 567.20) scale(1 1.1)">1.5</text>
<line x1="48.50" y1="578.50" x2="51.50" y2="578.50" stroke="#222" stroke-width="1"/>
<text x="0" y="0" font-size="8.1" text-anchor="end" fill="#222" stroke="#222" stroke-width="0.12" transform="translate(47.80 581.30) scale(1 1.1)">1.0</text>
<line x1="48.50" y1="621.50" x2="51.50" y2="621.50" stroke="#222" stroke-width="1"/>
<text x="0" y="0" font-size="8.1" text-anchor="end" fill="#222" stroke="#222" stroke-width="0.12" transform="translate(47.80 624.00) scale(1 1.1)">0.5</text>
<line x1="48.50" y1="649.50" x2="51.50" y2="649.50" stroke="#222" stroke-width="1"/>
<text x="0" y="0" font-size="8.1" text-anchor="end" fill="#222" stroke="#222" stroke-width="0.12" transform="translate(47.80 652.70) scale(1 1.1)">0.0</text>
<line x1="48.50" y1="592.50" x2="51.50" y2="592.50" stroke="#222" stroke-width="1"/>
<line x1="51.50" y1="650.50" x2="51.50" y2="653.50" stroke="#222" stroke-width="1"/>
<line x1="111.50" y1="650.50" x2="111.50" y2="653.50" stroke="#222" stroke-width="1"/>
<line x1="171.50" y1="650.50" x2="171.50" y2="653.50" stroke="#222" stroke-width="1"/>
<line x1="231.50" y1="650.50" x2="231.50" y2="653.50" stroke="#222" stroke-width="1"/>
<text x="0" y="0" font-size="7.8" text-anchor="middle" fill="#222" stroke="#222" stroke-width="0.12" transform="translate(51.20 660.00) scale(1 1.1)">0</text>
<text x="0" y="0" font-size="7.8" text-anchor="start" fill="#222" stroke="#222" stroke-width="0.12" transform="translate(107.09 661.30) scale(1 1.1)">1</text>
<text x="0" y="0" font-size="4.6" text-anchor="start" fill="#222" stroke="#222" stroke-width="0.1" transform="translate(111.73 658.70) scale(1 1.1)">st</text>
<text x="0" y="0" font-size="7.8" text-anchor="start" fill="#222" stroke="#222" stroke-width="0.12" transform="translate(166.12 661.30) scale(1 1.1)">2</text>
<text x="0" y="0" font-size="4.6" text-anchor="start" fill="#222" stroke="#222" stroke-width="0.1" transform="translate(170.76 658.70) scale(1 1.1)">nd</text>
<text x="0" y="0" font-size="7.8" text-anchor="start" fill="#222" stroke="#222" stroke-width="0.12" transform="translate(226.74 661.30) scale(1 1.1)">3</text>
<text x="0" y="0" font-size="4.6" text-anchor="start" fill="#222" stroke="#222" stroke-width="0.1" transform="translate(231.37 658.70) scale(1 1.1)">rd</text>
<text x="0" y="0" font-size="8.1" text-anchor="middle" fill="#111" stroke="#111" stroke-width="0.12" transform="translate(160.50 670.80) scale(1 1.1)">Times of injection</text>
<text x="0" y="0" font-size="8.3" text-anchor="middle" fill="#111" stroke="#111" stroke-width="0.12" transform="translate(28.60 579.00) rotate(-90) scale(1 1.1)" style="white-space:pre">Lymphocyte count  10<tspan font-size="4.8" dy="-3">9</tspan><tspan dy="3">/L</tspan></text>
<polyline points="51.30,616.50 111.20,568.30 171.00,559.70 231.10,529.60" fill="none" stroke="#5ea9f5" stroke-width="1" stroke-linejoin="round"/>
<circle cx="51.30" cy="616.50" r="2.85" fill="#5ea9f5"/>
<circle cx="111.20" cy="568.30" r="2.85" fill="#5ea9f5"/>
<circle cx="171.00" cy="559.70" r="2.85" fill="#5ea9f5"/>
<circle cx="231.10" cy="529.60" r="2.85" fill="#5ea9f5"/>
<polyline points="51.30,637.20 111.20,594.10 171.00,594.60 231.10,601.00" fill="none" stroke="#18c018" stroke-width="1" stroke-linejoin="round"/>
<circle cx="51.30" cy="637.20" r="2.85" fill="#18c018"/>
<circle cx="111.20" cy="579.00" r="2.85" fill="#18c018"/>
<circle cx="171.00" cy="578.30" r="2.85" fill="#18c018"/>
<circle cx="231.10" cy="601.00" r="2.85" fill="#18c018"/>
<polyline points="51.30,601.90 111.20,576.60 171.00,580.30 231.10,548.80" fill="none" stroke="#f9a046" stroke-width="1" stroke-linejoin="round"/>
<circle cx="51.30" cy="601.90" r="2.85" fill="#f9a046"/>
<circle cx="111.20" cy="576.60" r="2.85" fill="#f9a046"/>
<circle cx="171.00" cy="580.30" r="2.85" fill="#f9a046"/>
<circle cx="231.10" cy="548.80" r="2.85" fill="#f9a046"/>
<polyline points="51.30,614.80 111.20,577.50 171.00,603.80 231.10,599.00" fill="none" stroke="#df84f3" stroke-width="1" stroke-linejoin="round"/>
<circle cx="51.30" cy="614.80" r="2.85" fill="#df84f3"/>
<circle cx="111.20" cy="577.50" r="2.85" fill="#df84f3"/>
<circle cx="171.00" cy="603.80" r="2.85" fill="#df84f3"/>
<circle cx="231.10" cy="578.90" r="2.85" fill="#df84f3"/>
<polyline points="51.30,591.80 111.20,584.70 171.00,569.40 231.10,553.10" fill="none" stroke="#0808bb" stroke-width="1" stroke-linejoin="round"/>
<circle cx="51.30" cy="579.00" r="2.85" fill="#0808bb"/>
<circle cx="171.00" cy="569.40" r="2.85" fill="#0808bb"/>
<circle cx="231.10" cy="553.10" r="2.85" fill="#0808bb"/>
<line x1="268.00" y1="559.40" x2="276.00" y2="559.40" stroke="#df84f3" stroke-width="1"/>
<circle cx="271.80" cy="559.40" r="2.8" fill="#df84f3"/>
<text x="0" y="0" font-size="8.25" text-anchor="start" fill="#111" stroke="#111" stroke-width="0.12" transform="translate(279.80 562.30) scale(1 1.1)">MT026-001</text>
<line x1="268.00" y1="568.92" x2="276.00" y2="568.92" stroke="#f9a046" stroke-width="1"/>
<circle cx="271.80" cy="568.92" r="2.8" fill="#f9a046"/>
<text x="0" y="0" font-size="8.25" text-anchor="start" fill="#111" stroke="#111" stroke-width="0.12" transform="translate(279.80 571.82) scale(1 1.1)">MT026-002</text>
<line x1="268.00" y1="578.44" x2="276.00" y2="578.44" stroke="#18c018" stroke-width="1"/>
<circle cx="271.80" cy="578.44" r="2.8" fill="#18c018"/>
<text x="0" y="0" font-size="8.25" text-anchor="start" fill="#111" stroke="#111" stroke-width="0.12" transform="translate(279.80 581.34) scale(1 1.1)">MT026-003</text>
<line x1="268.00" y1="587.96" x2="276.00" y2="587.96" stroke="#5ea9f5" stroke-width="1"/>
<circle cx="271.80" cy="587.96" r="2.8" fill="#5ea9f5"/>
<text x="0" y="0" font-size="8.25" text-anchor="start" fill="#111" stroke="#111" stroke-width="0.12" transform="translate(279.80 590.86) scale(1 1.1)">MT026-004</text>
<line x1="268.00" y1="597.48" x2="276.00" y2="597.48" stroke="#0808bb" stroke-width="1"/>
<circle cx="271.80" cy="597.48" r="2.8" fill="#0808bb"/>
<text x="0" y="0" font-size="8.25" text-anchor="start" fill="#111" stroke="#111" stroke-width="0.12" transform="translate(279.80 600.38) scale(1 1.1)">MT026-005</text>
<text x="0" y="0" font-size="16.5" text-anchor="start" fill="#000" font-weight="bold" stroke="#000" stroke-width="0.12" transform="translate(356.80 500.90) scale(1 1.05)">f</text>
<line x1="459.20" y1="502.40" x2="459.20" y2="644.50" stroke="#888" stroke-width="0.9" stroke-dasharray="2 1.5"/>
<line x1="518.80" y1="502.40" x2="518.80" y2="644.50" stroke="#888" stroke-width="0.9" stroke-dasharray="2 1.5"/>
<line x1="578.30" y1="502.40" x2="578.30" y2="644.50" stroke="#888" stroke-width="0.9" stroke-dasharray="2 1.5"/>
<line x1="399.50" y1="501.90" x2="399.50" y2="645.00" stroke="#222" stroke-width="1"/>
<line x1="399.00" y1="644.50" x2="632.50" y2="644.50" stroke="#222" stroke-width="1.1"/>
<line x1="396.50" y1="644.50" x2="399.50" y2="644.50" stroke="#222" stroke-width="1"/>
<text x="0" y="0" font-size="8.1" text-anchor="end" fill="#222" stroke="#222" stroke-width="0.12" transform="translate(395.60 647.10) scale(1 1.1)">0</text>
<line x1="396.50" y1="608.50" x2="399.50" y2="608.50" stroke="#222" stroke-width="1"/>
<text x="0" y="0" font-size="8.1" text-anchor="end" fill="#222" stroke="#222" stroke-width="0.12" transform="translate(395.60 611.65) scale(1 1.1)">5</text>
<line x1="396.50" y1="573.50" x2="399.50" y2="573.50" stroke="#222" stroke-width="1"/>
<text x="0" y="0" font-size="8.1" text-anchor="end" fill="#222" stroke="#222" stroke-width="0.12" transform="translate(395.60 576.20) scale(1 1.1)">10</text>
<line x1="396.50" y1="537.50" x2="399.50" y2="537.50" stroke="#222" stroke-width="1"/>
<text x="0" y="0" font-size="8.1" text-anchor="end" fill="#222" stroke="#222" stroke-width="0.12" transform="translate(395.60 540.75) scale(1 1.1)">15</text>
<line x1="396.50" y1="502.50" x2="399.50" y2="502.50" stroke="#222" stroke-width="1"/>
<text x="0" y="0" font-size="8.1" text-anchor="end" fill="#222" stroke="#222" stroke-width="0.12" transform="translate(395.60 505.30) scale(1 1.1)">20</text>
<line x1="399.50" y1="644.50" x2="399.50" y2="647.50" stroke="#222" stroke-width="1"/>
<line x1="459.50" y1="644.50" x2="459.50" y2="647.50" stroke="#222" stroke-width="1"/>
<line x1="518.50" y1="644.50" x2="518.50" y2="647.50" stroke="#222" stroke-width="1"/>
<line x1="578.50" y1="644.50" x2="578.50" y2="647.50" stroke="#222" stroke-width="1"/>
<text x="0" y="0" font-size="7.8" text-anchor="middle" fill="#222" stroke="#222" stroke-width="0.12" transform="translate(399.30 654.50) scale(1 1.1)">0</text>
<text x="0" y="0" font-size="7.8" text-anchor="start" fill="#222" stroke="#222" stroke-width="0.12" transform="translate(455.09 655.80) scale(1 1.1)">1</text>
<text x="0" y="0" font-size="4.6" text-anchor="start" fill="#222" stroke="#222" stroke-width="0.1" transform="translate(459.73 653.20) scale(1 1.1)">st</text>
<text x="0" y="0" font-size="7.8" text-anchor="start" fill="#222" stroke="#222" stroke-width="0.12" transform="translate(513.92 655.80) scale(1 1.1)">2</text>
<text x="0" y="0" font-size="4.6" text-anchor="start" fill="#222" stroke="#222" stroke-width="0.1" transform="translate(518.56 653.20) scale(1 1.1)">nd</text>
<text x="0" y="0" font-size="7.8" text-anchor="start" fill="#222" stroke="#222" stroke-width="0.12" transform="translate(573.94 655.80) scale(1 1.1)">3</text>
<text x="0" y="0" font-size="4.6" text-anchor="start" fill="#222" stroke="#222" stroke-width="0.1" transform="translate(578.57 653.20) scale(1 1.1)">rd</text>
<text x="0" y="0" font-size="8.1" text-anchor="middle" fill="#111" stroke="#111" stroke-width="0.12" transform="translate(508.50 670.80) scale(1 1.1)">Times of injection</text>
<text x="0" y="0" font-size="8.2" text-anchor="middle" fill="#111" stroke="#111" stroke-width="0.12" transform="translate(376.50 578.00) rotate(-90) scale(1 1.1)">Neutrophil to Lymphocyte ratio (NLR)</text>
<polyline points="399.30,595.20 459.20,622.40 518.80,624.90 578.30,628.30" fill="none" stroke="#df84f3" stroke-width="1" stroke-linejoin="round"/>
<circle cx="399.30" cy="595.20" r="2.7" fill="#df84f3"/>
<circle cx="459.20" cy="622.40" r="2.7" fill="#df84f3"/>
<circle cx="518.80" cy="624.90" r="2.7" fill="#df84f3"/>
<circle cx="578.30" cy="628.30" r="2.7" fill="#df84f3"/>
<polyline points="399.30,535.90 459.20,546.80 518.80,582.70 578.30,589.90" fill="none" stroke="#18c018" stroke-width="1" stroke-linejoin="round"/>
<circle cx="399.30" cy="535.90" r="2.7" fill="#18c018"/>
<circle cx="459.20" cy="546.80" r="2.7" fill="#18c018"/>
<circle cx="518.80" cy="582.70" r="2.7" fill="#18c018"/>
<circle cx="578.30" cy="589.90" r="2.7" fill="#18c018"/>
<polyline points="399.30,515.00 459.20,629.90 518.80,627.70 578.30,622.60" fill="none" stroke="#5ea9f5" stroke-width="1" stroke-linejoin="round"/>
<circle cx="399.30" cy="515.00" r="2.7" fill="#5ea9f5"/>
<circle cx="459.20" cy="629.90" r="2.7" fill="#5ea9f5"/>
<circle cx="518.80" cy="627.70" r="2.7" fill="#5ea9f5"/>
<circle cx="578.30" cy="622.60" r="2.7" fill="#5ea9f5"/>
<polyline points="399.30,617.60 459.20,599.80 518.80,622.00 578.30,619.70" fill="none" stroke="#0808bb" stroke-width="1" stroke-linejoin="round"/>
<circle cx="399.30" cy="617.60" r="2.7" fill="#0808bb"/>
<circle cx="459.20" cy="599.80" r="2.7" fill="#0808bb"/>
<circle cx="518.80" cy="622.00" r="2.7" fill="#0808bb"/>
<circle cx="578.30" cy="619.70" r="2.7" fill="#0808bb"/>
<polyline points="399.30,605.20 459.20,613.80 518.80,620.60 578.30,629.70" fill="none" stroke="#f9a046" stroke-width="1" stroke-linejoin="round"/>
<circle cx="399.30" cy="605.20" r="2.7" fill="#f9a046"/>
<circle cx="459.20" cy="613.80" r="2.7" fill="#f9a046"/>
<circle cx="518.80" cy="620.60" r="2.7" fill="#f9a046"/>
<circle cx="578.30" cy="629.70" r="2.7" fill="#f9a046"/>
<line x1="611.00" y1="559.50" x2="619.00" y2="559.50" stroke="#df84f3" stroke-width="1"/>
<circle cx="614.70" cy="559.50" r="2.8" fill="#df84f3"/>
<text x="0" y="0" font-size="8.25" text-anchor="start" fill="#111" stroke="#111" stroke-width="0.12" transform="translate(622.80 562.40) scale(1 1.1)">MT026-001</text>
<line x1="611.00" y1="569.00" x2="619.00" y2="569.00" stroke="#f9a046" stroke-width="1"/>
<circle cx="614.70" cy="569.00" r="2.8" fill="#f9a046"/>
<text x="0" y="0" font-size="8.25" text-anchor="start" fill="#111" stroke="#111" stroke-width="0.12" transform="translate(622.80 571.90) scale(1 1.1)">MT026-002</text>
<line x1="611.00" y1="578.50" x2="619.00" y2="578.50" stroke="#18c018" stroke-width="1"/>
<circle cx="614.70" cy="578.50" r="2.8" fill="#18c018"/>
<text x="0" y="0" font-size="8.25" text-anchor="start" fill="#111" stroke="#111" stroke-width="0.12" transform="translate(622.80 581.40) scale(1 1.1)">MT026-003</text>
<line x1="611.00" y1="588.00" x2="619.00" y2="588.00" stroke="#5ea9f5" stroke-width="1"/>
<circle cx="614.70" cy="588.00" r="2.8" fill="#5ea9f5"/>
<text x="0" y="0" font-size="8.25" text-anchor="start" fill="#111" stroke="#111" stroke-width="0.12" transform="translate(622.80 590.90) scale(1 1.1)">MT026-004</text>
<line x1="611.00" y1="597.50" x2="619.00" y2="597.50" stroke="#0808bb" stroke-width="1"/>
<circle cx="614.70" cy="597.50" r="2.8" fill="#0808bb"/>
<text x="0" y="0" font-size="8.25" text-anchor="start" fill="#111" stroke="#111" stroke-width="0.12" transform="translate(622.80 600.40) scale(1 1.1)">MT026-005</text>
</svg></body></html>
